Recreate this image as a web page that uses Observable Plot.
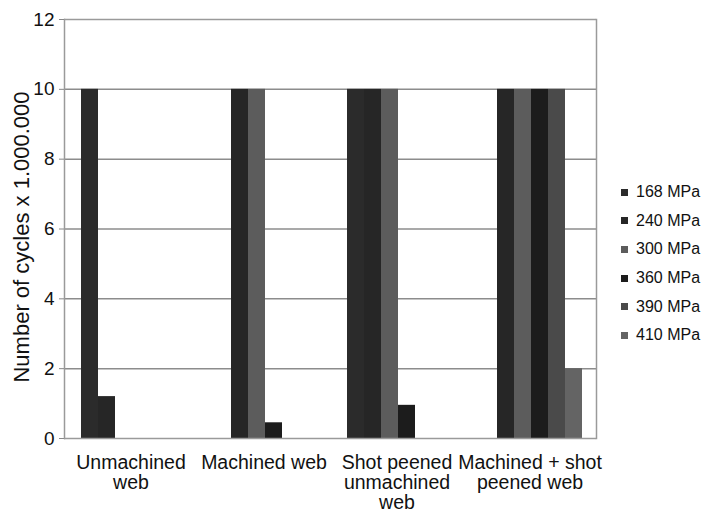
<!DOCTYPE html>
<html>
<head>
<meta charset="utf-8">
<script src="https://cdn.jsdelivr.net/npm/d3@7"></script>
<script src="https://cdn.jsdelivr.net/npm/@observablehq/plot@0.6"></script>
<style>
  html, body { margin: 0; padding: 0; background: #fff; }
  #wrap { position: relative; width: 707px; height: 513px; font-family: "Liberation Sans", Arial, sans-serif; }
  #legend { position: absolute; left: 621px; top: 178px; }
  .row { display: flex; align-items: center; height: 28.6px; font-size: 16px; color: #111; }
  .sw { width: 7px; height: 7px; margin-right: 8px; }
</style>
</head>
<body>
<div id="wrap"><div id="chart"></div><div id="legend"></div></div>
<script>
const groups = ["Unmachined web", "Machined web", "Shot peened unmachined web", "Machined + shot peened web"];
const groupLabels = ["Unmachined\nweb", "Machined web", "Shot peened\nunmachined\nweb", "Machined + shot\npeened web"];
const series = ["168 MPa", "240 MPa", "300 MPa", "360 MPa", "390 MPa", "410 MPa"];
const seriesColors = ["#2b2b2b", "#262626", "#5c5c5c", "#1c1c1c", "#4a4a4a", "#646464"];
// values per series, one per group (x 1.000.000 cycles)
const v168 = [10, 0, 10, 0];
const v240 = [1.2, 10, 10, 10];
const v300 = [0, 10, 10, 10];
const v360 = [0, 0.45, 0.95, 10];
const v390 = [0, 0, 0, 10];
const v410 = [0, 0, 0, 2.0];
const yTicks = [0, 2, 4, 6, 8, 10, 12];
const gridTicks = [2, 4, 6, 8, 10];
const yLabel = "Number of cycles x 1.000.000";

const allValues = [v168, v240, v300, v360, v390, v410];
const data = [];
series.forEach((s, i) => groups.forEach((g, j) => data.push({group: g, series: s, value: allValues[i][j]})));

const labelOf = new Map(groups.map((g, i) => [g, groupLabels[i]]));

const chart = Plot.plot({
  width: 707,
  height: 513,
  marginLeft: 63,
  marginRight: 111,
  marginTop: 19,
  marginBottom: 75,
  style: {fontFamily: "'Liberation Sans', Arial, sans-serif", color: "#111", background: "transparent"},
  fx: {domain: groups, paddingInner: 0, paddingOuter: 0, axis: null},
  x: {domain: series, paddingInner: 0, paddingOuter: 0.8, align: 0.56, axis: null},
  y: {domain: [0, 12], axis: null},
  color: {domain: series, range: seriesColors},
  marks: [
    Plot.ruleY(gridTicks, {stroke: "#8c8c8c", strokeWidth: 1.5}),
    Plot.barY(data, {fx: "group", x: "series", y: "value", fill: "series"}),
    Plot.ruleY([0, 12], {stroke: "#9a9a9a", strokeWidth: 1.5}),
    Plot.frame({anchor: "left", facetAnchor: "left", stroke: "#9a9a9a", strokeWidth: 1.5}),
    Plot.frame({anchor: "right", facetAnchor: "right", stroke: "#9a9a9a", strokeWidth: 1.5}),
    Plot.axisY({ticks: yTicks, fontSize: 19, tickSize: 5, tickPadding: 5, stroke: "#888", label: null}),
    Plot.text([yLabel], {frameAnchor: "left", facetAnchor: "left", rotate: -90, dx: -43, dy: 8,
      textAnchor: "middle", lineAnchor: "middle", fontSize: 22, fill: "#111"}),
    Plot.axisFx({anchor: "bottom", tickSize: 0, tickPadding: 16, fontSize: 19.5, lineHeight: 1.03,
      label: null, tickFormat: d => labelOf.get(d)})
  ]
});
document.getElementById("chart").appendChild(chart);

const legend = document.getElementById("legend");
series.forEach((s, i) => {
  const row = document.createElement("div");
  row.className = "row";
  const sw = document.createElement("div");
  sw.className = "sw";
  sw.style.background = seriesColors[i];
  row.appendChild(sw);
  row.appendChild(document.createTextNode(s));
  legend.appendChild(row);
});
</script>
</body>
</html>
